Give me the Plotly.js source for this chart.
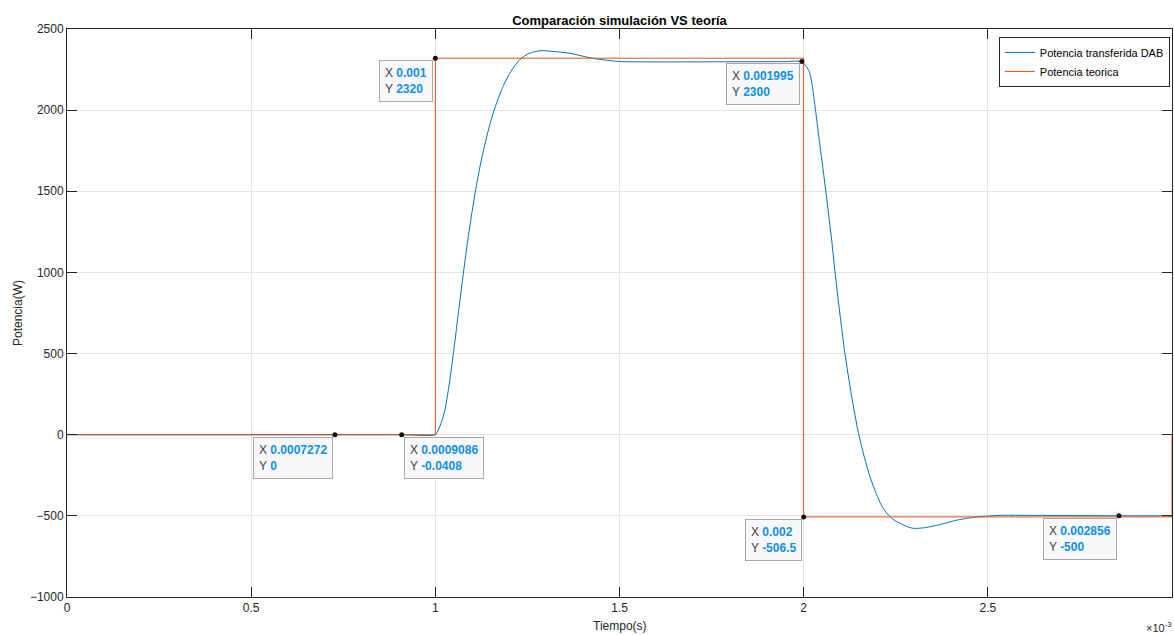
<!DOCTYPE html>
<html>
<head>
<meta charset="utf-8">
<script src="https://cdn.plot.ly/plotly-3.0.1.min.js"></script>
<style>html,body{margin:0;padding:0;background:#fff;}#chart{width:1174px;height:635px;}</style>
</head>
<body>
<div id="chart"></div>
<script>
// Time in units of 1e-3 s
const simTime = [0, 0.5, 0.9086, 1.0, 1.008, 1.017, 1.026, 1.037, 1.049, 1.062, 1.076, 1.09, 1.108, 1.125, 1.148, 1.165, 1.185, 1.205, 1.230, 1.255, 1.284, 1.32, 1.366, 1.428, 1.50, 1.6, 1.8, 1.95, 1.995, 2.004, 2.010, 2.017, 2.024, 2.031, 2.042, 2.054, 2.063, 2.076, 2.085, 2.098, 2.112, 2.13, 2.149, 2.165, 2.180, 2.2, 2.215, 2.230, 2.245, 2.262, 2.28, 2.298, 2.325, 2.352, 2.385, 2.416, 2.45, 2.479, 2.533, 2.6, 2.7, 2.856, 3.0];
const simPower = [0, 0, -0.0408, 0, 29, 80, 152, 300, 501, 740, 994, 1229, 1490, 1694, 1912, 2036, 2152, 2238, 2313, 2350, 2366, 2362, 2350, 2319, 2300, 2297, 2298, 2299, 2300, 2278, 2260, 2227, 2140, 2021, 1820, 1611, 1446, 1200, 1004, 750, 501, 240, 8, -140, -259, -380, -450, -495, -525, -546, -565, -577, -574, -563, -545, -526, -513, -505, -497, -497, -498, -500, -500];

const theoTime = [0, 1.0, 1.0, 2.0, 2.0, 3.0, 3.0];
const theoPower = [0, 0, 2320, 2320, -506.5, -506.5, 0];

const tipX = [0.0007272, 0.0009086, 0.001, 0.001995, 0.002, 0.002856];
const tipY = [0, -0.0408, 2320, 2300, -506.5, -500];
const tipSide = ['left', 'right', 'left', 'left', 'left', 'left'];

const xTickVals = [0, 0.5, 1, 1.5, 2, 2.5, 3];
const xTickText = ['0', '0.5', '1', '1.5', '2', '2.5', '3'];
const yTickVals = [-1000, -500, 0, 500, 1000, 1500, 2000, 2500];

const blue = '#0072BD', orange = '#D95319';
const font = 'Arial, "Liberation Sans", Helvetica, sans-serif';

const traces = [
  {x: simTime, y: simPower, type: 'scatter', mode: 'lines', name: 'Potencia transferida DAB',
   line: {color: blue, width: 1, shape: 'spline', smoothing: 0.7}},
  {x: theoTime, y: theoPower, type: 'scatter', mode: 'lines', name: 'Potencia teorica',
   line: {color: orange, width: 1}},
  {x: tipX.map(v => v * 1000), y: tipY, type: 'scatter', mode: 'markers', showlegend: false,
   marker: {color: '#111', size: 5}}
];

const valColor = '#0f8fe8';
const annotations = tipX.map((tx, i) => ({
  x: tx * 1000, y: tipY[i], xref: 'x', yref: 'y',
  xanchor: tipSide[i] === 'left' ? 'right' : 'left', yanchor: 'top',
  xshift: tipSide[i] === 'left' ? -2 : 2, yshift: -2,
  showarrow: false, align: 'left',
  text: 'X <span style="color:' + valColor + '"><b>' + tx + '</b></span><br>Y <span style="color:' + valColor + '"><b>' + tipY[i] + '</b></span>',
  font: {family: font, size: 12, color: '#404040'},
  bgcolor: '#f8f8fa', bordercolor: '#a8a8a8', borderwidth: 1, borderpad: 5
}));

annotations.push(
  {text: 'Tiempo(s)', xref: 'paper', yref: 'paper', x: 0.5, y: 0, yshift: -29, xanchor: 'center', yanchor: 'middle', showarrow: false,
   font: {family: font, size: 12, color: '#262626'}},
  {text: 'Potencia(W)', xref: 'paper', yref: 'paper', x: 0, xshift: -49, y: 0.5, textangle: -90, xanchor: 'center', yanchor: 'middle', showarrow: false,
   font: {family: font, size: 12, color: '#262626'}},
  {text: '×10<sup>-3</sup>', xref: 'paper', yref: 'paper', x: 1, xshift: 2, y: 0, yshift: -30, xanchor: 'right', yanchor: 'middle', showarrow: false,
   font: {family: font, size: 11, color: '#262626'}}
);

const layout = {
  width: 1174, height: 635,
  margin: {l: 67, r: 2, t: 29, b: 38},
  paper_bgcolor: '#fff', plot_bgcolor: '#fff',
  title: {text: '<b>Comparación simulación VS teoría</b>', font: {family: font, size: 13, color: '#000'},
          x: 0.5, xref: 'paper', y: 1, yref: 'paper', yanchor: 'bottom', pad: {b: 4}},
  showlegend: true,
  legend: {x: 0.998, xanchor: 'right', y: 0.986, yanchor: 'top', bgcolor: '#fff',
           bordercolor: '#262626', borderwidth: 1, font: {family: font, size: 11, color: '#000'},
           tracegroupgap: 0, itemwidth: 30},
  xaxis: {range: [0, 3], tickvals: xTickVals, ticktext: xTickText, showgrid: true, gridcolor: '#e3e3e3',
          zeroline: false, showline: true, linecolor: '#262626', linewidth: 1, mirror: 'ticks',
          ticks: 'inside', ticklen: 10, tickcolor: '#262626',
          tickfont: {family: font, size: 12, color: '#262626'}},
  yaxis: {range: [-1000, 2500], tickvals: yTickVals, showgrid: true, gridcolor: '#e3e3e3',
          zeroline: false, showline: true, linecolor: '#262626', linewidth: 1, mirror: 'ticks',
          ticks: 'inside', ticklen: 10, tickcolor: '#262626',
          tickfont: {family: font, size: 12, color: '#262626'}},
  annotations: annotations,
  hovermode: false
};

Plotly.newPlot('chart', traces, layout, {displayModeBar: false, staticPlot: true});
</script>
</body>
</html>
